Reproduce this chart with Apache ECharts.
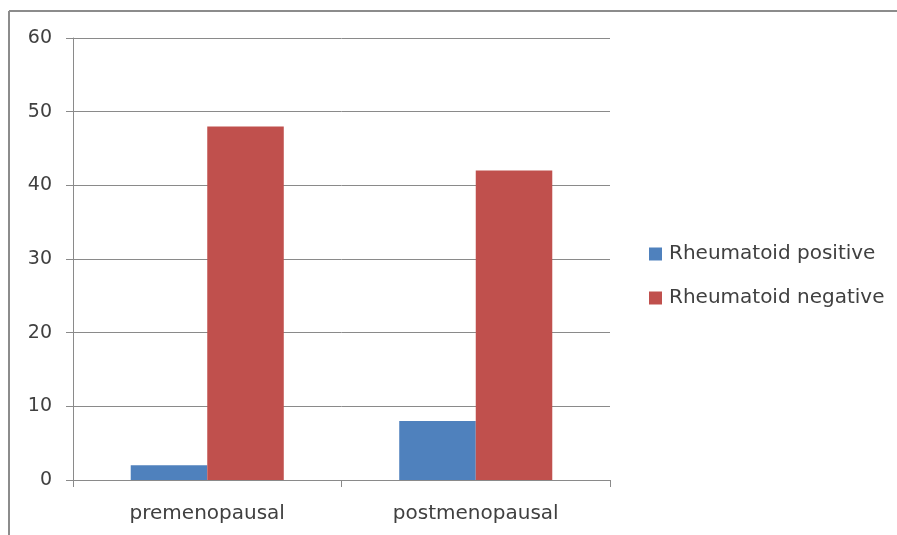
<!DOCTYPE html>
<html>
<head>
<meta charset="utf-8">
<script src="https://cdn.jsdelivr.net/npm/echarts@6/dist/echarts.min.js"></script>
<style>
html,body{margin:0;padding:0;background:#fff;}
#c{width:897px;height:535px;}
</style>
</head>
<body>
<div id="c"></div>
<script>
var categories = ['premenopausal', 'postmenopausal'];
var seriesNames = ['Rheumatoid positive', 'Rheumatoid negative'];
var positiveValues = [2, 8];
var negativeValues = [48, 42];
var yTicks = [0, 10, 20, 30, 40, 50, 60];

var chart = echarts.init(document.getElementById('c'), null, {renderer: 'canvas'});
var font = 'DejaVu Sans';
var textColor = '#404040';
var lineColor = '#8a8a8a';
chart.setOption({
  animation: false,
  backgroundColor: '#fff',
  graphic: [
    {type: 'line', shape: {x1: 9, y1: 11, x2: 897, y2: 11}, style: {stroke: '#8c8c8c', lineWidth: 2}},
    {type: 'line', shape: {x1: 9, y1: 11, x2: 9, y2: 535}, style: {stroke: '#8c8c8c', lineWidth: 2}}
  ],
  grid: {left: 73, top: 38, right: 287, bottom: 55, containLabel: false},
  legend: {
    orient: 'vertical',
    left: 649,
    top: 244,
    padding: 0,
    itemWidth: 13,
    itemHeight: 13,
    itemGap: 24,
    icon: 'rect',
    textStyle: {fontFamily: font, fontSize: 20, color: textColor, lineHeight: 20, padding: [0,0,0,2]},
    data: seriesNames
  },
  xAxis: {
    type: 'category',
    data: categories,
    axisLine: {show: true, lineStyle: {color: lineColor, width: 1}},
    axisTick: {show: true, length: 7, lineStyle: {color: lineColor}},
    axisLabel: {fontFamily: font, fontSize: 20, color: textColor, margin: 24}
  },
  yAxis: {
    type: 'value',
    min: yTicks[0],
    max: yTicks[yTicks.length - 1],
    interval: yTicks[1] - yTicks[0],
    axisLine: {show: true, lineStyle: {color: lineColor, width: 1}},
    axisTick: {show: true, length: 7, lineStyle: {color: lineColor}},
    splitLine: {show: true, lineStyle: {color: lineColor, width: 1}},
    axisLabel: {fontFamily: font, fontSize: 19, color: textColor, margin: 21}
  },
  series: [
    {name: seriesNames[0], type: 'bar', data: positiveValues, barGap: '0%', barCategoryGap: '43%', itemStyle: {color: '#4F81BD'}},
    {name: seriesNames[1], type: 'bar', data: negativeValues, barGap: '0%', barCategoryGap: '43%', itemStyle: {color: '#C0504D'}}
  ]
});
</script>
</body>
</html>
